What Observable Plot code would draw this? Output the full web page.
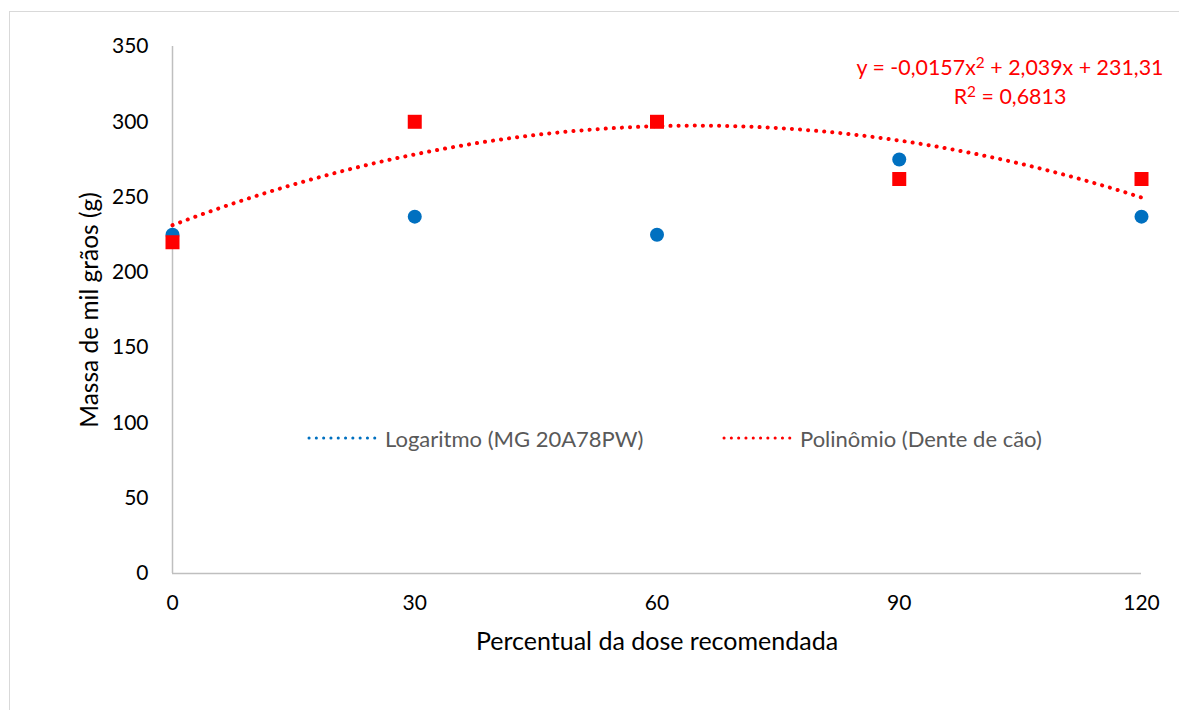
<!DOCTYPE html>
<html>
<head>
<meta charset="utf-8">
<script src="https://cdn.jsdelivr.net/npm/d3@7"></script>
<script src="https://cdn.jsdelivr.net/npm/@observablehq/plot@0.6"></script>
<style>
  html, body { margin: 0; padding: 0; background: #fff; }
  #wrap { position: relative; width: 1179px; height: 710px; overflow: hidden; font-family: Lato, "Open Sans", sans-serif; }
  #border { position: absolute; left: 9px; top: 11px; width: 1200px; height: 720px; border-left: 1.5px solid #d9d9d9; border-top: 1.5px solid #d9d9d9; }
  #chart { position: absolute; left: 0; top: 0; }
  .eq { position: absolute; color: #ff0000; font-size: 21.4px; text-align: center; white-space: nowrap; }
  .eq sup { font-size: 0.72em; line-height: 0; vertical-align: 0.45em; }
  .leg { position: absolute; color: #595959; font-size: 22px; white-space: nowrap; display: flex; align-items: center; }
  .leg svg { margin-right: 8px; }
</style>
</head>
<body>
<div id="wrap">
  <div id="border"></div>
  <div id="chart"></div>
</div>
<script>
const doses = [0, 30, 60, 90, 120];
const massMG = [225, 237, 225, 275, 237];        // MG 20A78PW
const massDente = [220, 300, 300, 262, 262];     // Dente de cão
const yTicks = [0, 50, 100, 150, 200, 250, 300, 350];
const xTicks = [0, 30, 60, 90, 120];
const seriesNames = ["Logaritmo (MG 20A78PW)", "Polinômio (Dente de cão)"];
const colors = ["#0070c0", "#ff0000"];

const blue = doses.map((d, i) => ({x: d, y: massMG[i]}));
const red = doses.map((d, i) => ({x: d, y: massDente[i]}));

// least-squares quadratic fit of the red series
function quadFit(xs, ys) {
  const S = Array.from({length: 5}, (_, k) => d3.sum(xs, x => x ** k));
  const T = Array.from({length: 3}, (_, k) => d3.sum(xs, (x, i) => ys[i] * x ** k));
  const A = [[S[0], S[1], S[2], T[0]], [S[1], S[2], S[3], T[1]], [S[2], S[3], S[4], T[2]]];
  for (let i = 0; i < 3; i++) {
    for (let j = i + 1; j < 3; j++) {
      const f = A[j][i] / A[i][i];
      for (let k = i; k < 4; k++) A[j][k] -= f * A[i][k];
    }
  }
  const c = [0, 0, 0];
  for (let i = 2; i >= 0; i--) {
    let s = A[i][3];
    for (let k = i + 1; k < 3; k++) s -= A[i][k] * c[k];
    c[i] = s / A[i][i];
  }
  return c;
}
const coef = quadFit(doses, massDente);
const fit = d3.range(0, 120.001, 1).map(x => ({x, y: coef[0] + coef[1] * x + coef[2] * x * x}));

const plot = Plot.plot({
  width: 1179,
  height: 710,
  marginLeft: 172,
  marginRight: 38,
  marginTop: 46,
  marginBottom: 137,
  style: {fontFamily: "Lato, 'Open Sans', sans-serif", background: "transparent", overflow: "visible"},
  x: {domain: [0, 120]},
  y: {domain: [0, 350]},
  marks: [
    Plot.ruleX([0], {stroke: "#bfbfbf", strokeWidth: 1.5}),
    Plot.ruleY([0], {stroke: "#bfbfbf", strokeWidth: 1.5}),
    Plot.axisY({ticks: yTicks, tickSize: 0, tickPadding: 24, fontSize: 21, color: "#000", label: null}),
    Plot.axisX({ticks: xTicks, tickSize: 0, tickPadding: 22, fontSize: 21, color: "#000", label: null}),
    Plot.text(["Percentual da dose recomendada"], {frameAnchor: "bottom", dy: 76, fontSize: 25, fill: "#000"}),
    Plot.text(["Massa de mil grãos (g)"], {frameAnchor: "left", dx: -82, rotate: -90, textAnchor: "middle", fontSize: 24.5, fill: "#000"}),
    Plot.line(fit, {x: "x", y: "y", stroke: colors[1], strokeWidth: 4, strokeDasharray: "0.1 8", strokeLinecap: "round", curve: "linear"}),
    Plot.dot(blue, {x: "x", y: "y", r: 7, fill: colors[0], stroke: "none"}),
    Plot.dot(red, {x: "x", y: "y", r: 7.9, symbol: "square", fill: colors[1], stroke: "none"})
  ]
});
document.getElementById("chart").appendChild(plot);

const wrap = document.getElementById("wrap");
// equation label
const eq = document.createElement("div");
eq.className = "eq";
eq.style.left = "1010px";
eq.style.top = "53px";
eq.style.transform = "translateX(-50%)";
eq.style.lineHeight = "29px";
eq.innerHTML = "y = -0,0157x<sup>2</sup> + 2,039x + 231,31<br>R<sup>2</sup> = 0,6813";
wrap.appendChild(eq);

// legend
const legPos = [{left: 307, top: 438}, {left: 722, top: 438}];
seriesNames.forEach((name, i) => {
  const d = document.createElement("div");
  d.className = "leg";
  d.style.left = legPos[i].left + "px";
  d.style.top = (legPos[i].top - 14) + "px";
  d.style.height = "28px";
  d.innerHTML = `<svg width="70" height="10"><line x1="2" y1="5" x2="68" y2="5" stroke="${colors[i]}" stroke-width="3" stroke-dasharray="0.1 7.2" stroke-linecap="round"/></svg><span>${name}</span>`;
  wrap.appendChild(d);
});
</script>
</body>
</html>
